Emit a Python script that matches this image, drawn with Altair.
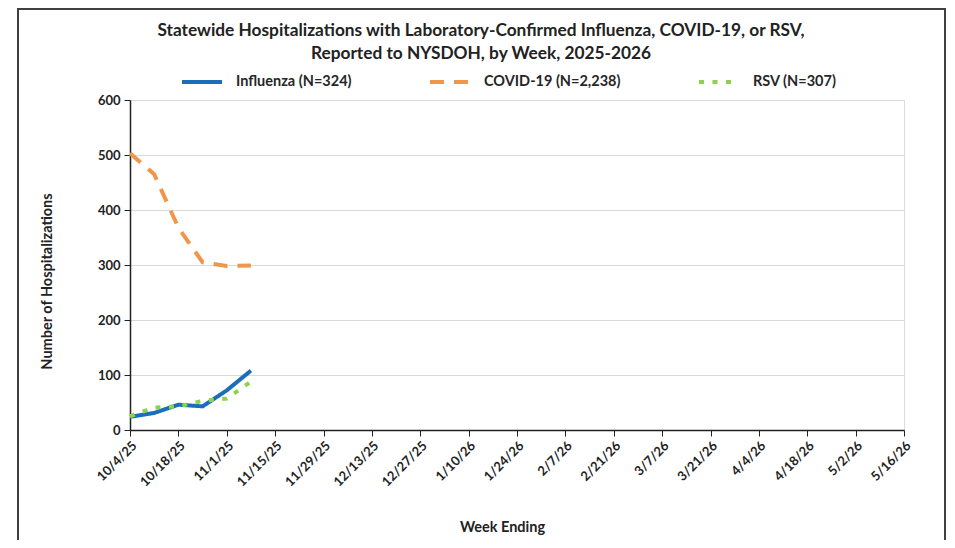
import altair as alt
import pandas as pd

# ---- data ----
week_start = "2025-10-04"
n_weeks = 33
weeks = [f"{d.month}/{d.day}/{d.year % 100}" for d in pd.date_range(week_start, periods=n_weeks, freq="7D")]
tick_labels = weeks[::2]

series_names = ["Influenza (N=324)", "COVID-19 (N=2,238)", "RSV (N=307)"]
influenza = [24, 31, 46, 43, 72, 108]
covid = [503, 465, 368, 305, 298, 299]
rsv = [25, 41, 43, 53, 57, 88]

colors = ["#1A6FB8", "#F0964A", "#8ED14F"]
dashes = [[1, 0], [14, 10], [5, 8.5]]
widths = [4, 4, 5]

rows = []
for name, vals in zip(series_names, [influenza, covid, rsv]):
    for w, v in zip(weeks, vals):
        rows.append({"week": w, "series": name, "value": v})
df = pd.DataFrame(rows)

FONT = "Lato"
TXT = "#222222"

legend = alt.Legend(
    title=None,
    orient="none",
    legendX=50,
    legendY=-40,
    direction="horizontal",
    symbolType="stroke",
    symbolSize=1600,
    labelFont=FONT,
    labelFontSize=14.5,
    labelFontWeight="bold",
    labelColor="#262626",
    labelOffset=12,
    columnPadding=70,
    symbolStrokeWidth=4.5,
)

lines = alt.Chart(df).mark_line(strokeCap="butt", interpolate="linear").encode(
    x=alt.X(
        "week:O",
        scale=alt.Scale(type="point", domain=weeks, padding=0),
        sort=weeks,
        axis=alt.Axis(
            values=tick_labels,
            title="Week Ending",
            labelAngle=-45,
            labelAlign="right",
            labelBaseline="top",
            labelFont=FONT,
            labelFontSize=13,
            labelFontWeight="bold",
            labelColor=TXT,
            labelPadding=3,
            tickSize=6,
            tickColor=TXT,
            domainColor=TXT,
            domainWidth=1.5,
            titleFont=FONT,
            titleFontSize=14.5,
            titleFontWeight="bold",
            titleColor=TXT,
            titleX=372,
            titleY=97,
            titleBaseline="middle",
            titleAlign="center",
            grid=False,
        ),
    ),
    y=alt.Y(
        "value:Q",
        scale=alt.Scale(domain=[0, 600], nice=False),
        axis=alt.Axis(
            values=[0, 100, 200, 300, 400, 500, 600],
            title="Number of Hospitalizations",
            labelFont=FONT,
            labelFontSize=13,
            labelFontWeight="bold",
            labelColor=TXT,
            labelPadding=4,
            tickSize=6,
            tickColor=TXT,
            domainColor=TXT,
            domainWidth=1.5,
            gridColor="#D9D9D9",
            gridWidth=1,
            titleFont=FONT,
            titleFontSize=14.5,
            titleFontWeight="bold",
            titleColor=TXT,
            titleX=-83,
            titleY=181,
            titleAngle=-90,
            titleBaseline="middle",
            titleAlign="center",
        ),
    ),
    color=alt.Color("series:N", scale=alt.Scale(domain=series_names, range=colors), legend=legend),
    strokeDash=alt.StrokeDash("series:N", scale=alt.Scale(domain=series_names, range=dashes), legend=legend),
    strokeWidth=alt.StrokeWidth("series:N", scale=alt.Scale(domain=series_names, range=widths), legend=None),
    detail="series:N",
)

frame = alt.Chart(pd.DataFrame({"a": [0]})).mark_rect(
    fill=None, stroke="#404040", strokeWidth=2, clip=False
).encode(
    x=alt.value(-112), x2=alt.value(815), y=alt.value(-91), y2=alt.value(470)
)

chart = alt.layer(frame, lines).properties(
    width=774,
    height=330,
    autosize=alt.AutoSizeParams(type="none"),
    padding={"left": 122, "top": 92, "right": 43, "bottom": 110},
    title=alt.Title(
        ["Statewide Hospitalizations with Laboratory-Confirmed  Influenza, COVID-19, or RSV,",
         "Reported to NYSDOH, by Week, 2025-2026"],
        font=FONT,
        fontSize=17.3,
        fontWeight="bold",
        color=TXT,
        anchor="middle",
        dx=-36,
        offset=-54,
        lineHeight=23,
    ),
).configure_view(stroke=None).configure(background="white")

chart.save("out.html", embed_options={"renderer": "svg", "actions": False})
